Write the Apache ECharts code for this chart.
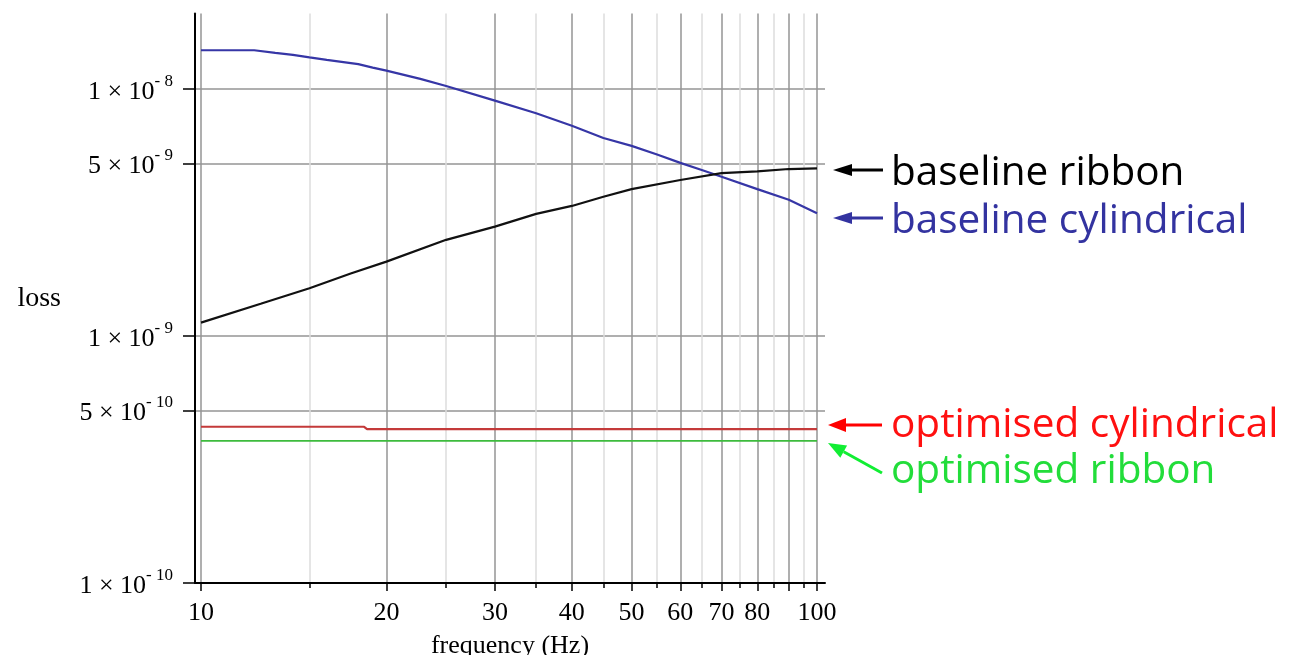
<!DOCTYPE html>
<html>
<head>
<meta charset="utf-8">
<script src="https://cdn.jsdelivr.net/npm/echarts@6/dist/echarts.min.js"></script>
<style>
html,body{margin:0;padding:0;background:#fff;}
#chart{width:1297px;height:655px;}
</style>
</head>
<body>
<div id="chart"></div>
<script>
// ---- data (frequency in Hz, loss) ----
const cylBaseFreq = [10, 12.2, 13.2, 14.1, 15, 16, 18, 19, 20, 22.7, 25, 30, 35, 40, 45, 50, 55, 60, 65, 70, 80, 90, 100];
const cylBaseLoss = [1.434e-8, 1.434e-8, 1.40e-8, 1.373e-8, 1.341e-8, 1.311e-8, 1.26e-8, 1.22e-8, 1.186e-8, 1.098e-8, 1.028e-8, 8.97e-9, 7.97e-9, 7.09e-9, 6.33e-9, 5.88e-9, 5.43e-9, 5.02e-9, 4.7e-9, 4.41e-9, 3.93e-9, 3.56e-9, 3.14e-9];

const ribBaseFreq = [10, 12.5, 15, 17.5, 20, 25, 30, 35, 40, 45, 50, 60, 70, 80, 90, 100];
const ribBaseLoss = [1.132e-9, 1.35e-9, 1.56e-9, 1.79e-9, 2.0e-9, 2.45e-9, 2.77e-9, 3.12e-9, 3.36e-9, 3.66e-9, 3.93e-9, 4.28e-9, 4.56e-9, 4.64e-9, 4.74e-9, 4.77e-9];

const cylOptFreq = [10, 18.4, 18.6, 100];
const cylOptLoss = [4.29e-10, 4.29e-10, 4.2e-10, 4.2e-10];

const ribOptFreq = [10, 100];
const ribOptLoss = [3.76e-10, 3.76e-10];

// ---- tick values ----
const xMajorTicks = [10, 20, 30, 40, 50, 60, 70, 80, 90, 100];
const xMinorTicks = [15, 25, 35, 45, 55, 65, 75, 85, 95];
const xLabelTicks = [10, 20, 30, 40, 50, 60, 70, 80, 100];
const yTicks = [1e-10, 5e-10, 1e-9, 5e-9, 1e-8];

const L = Math.log10;
function pts(f, v) { return f.map((x, i) => [L(x), L(v[i])]); }

const xMin = 1 - 6 / 616, xMax = 2 + 8 / 616;
const yMin = -10, yMax = L(2.02e-8);

const serif = '"Liberation Serif", "Times New Roman", serif';
const sans = '"Open Sans", "Noto Sans", sans-serif';

const chart = echarts.init(document.getElementById('chart'), null, {renderer: 'canvas'});

const option = {
  animation: false,
  backgroundColor: '#ffffff',
  grid: { left: 195, right: 472, top: 13.5, bottom: 72, containLabel: false, outerBoundsMode: 'none' },
  xAxis: [
    {
      type: 'value', min: xMin, max: xMax, position: 'bottom',
      axisLine: { show: false },
      axisLabel: { show: false },
      axisTick: { show: true, length: 5, lineStyle: { color: '#000', width: 1.5 }, customValues: xMinorTicks.map(L) },
      splitLine: { show: true, lineStyle: { color: '#dcdcdc', width: 1.5 } }
    },
    {
      type: 'value', min: xMin, max: xMax, position: 'bottom',
      name: 'frequency (Hz)', nameLocation: 'middle', nameGap: 50,
      nameTextStyle: { fontFamily: serif, fontSize: 26, color: '#000' },
      axisLine: { show: true, onZero: false, lineStyle: { color: '#000', width: 2 } },
      axisTick: { show: true, length: 8, lineStyle: { color: '#000', width: 1.5 }, customValues: xMajorTicks.map(L) },
      axisLabel: {
        show: true, margin: 17, fontFamily: serif, fontSize: 26, color: '#000',
        customValues: xLabelTicks.map(L),
        formatter: v => String(Math.round(Math.pow(10, v)))
      },
      splitLine: { show: true, lineStyle: { color: '#959595', width: 1.5 } }
    }
  ],
  yAxis: {
    type: 'value', min: yMin, max: yMax,
    name: 'loss', nameLocation: 'middle', nameRotate: 0, nameGap: 134,
    nameTextStyle: { fontFamily: serif, fontSize: 28, color: '#000', padding: [8, 0, 0, 0] },
    axisLine: { show: true, onZero: false, lineStyle: { color: '#000', width: 2 } },
    axisTick: { show: true, length: 12, lineStyle: { color: '#000', width: 1.5 }, customValues: yTicks.map(L) },
    axisLabel: {
      show: true, margin: 22, color: '#000',
      customValues: yTicks.map(L),
      formatter: v => {
        const e = Math.floor(v + 1e-9);
        const m = Math.round(Math.pow(10, v - e));
        return '{a|' + m + ' \u00d7 10}{b|- ' + (-e) + '}';
      },
      rich: {
        a: { fontFamily: serif, fontSize: 26, color: '#000', lineHeight: 32, verticalAlign: 'bottom' },
        b: { fontFamily: serif, fontSize: 17, color: '#000', lineHeight: 32, verticalAlign: 'top' }
      }
    },
    splitLine: { show: true, lineStyle: { color: '#959595', width: 1.5 } }
  },
  series: [
    { name: 'baseline cylindrical', type: 'line', xAxisIndex: 1, data: pts(cylBaseFreq, cylBaseLoss), showSymbol: false, symbol: 'none', lineStyle: { color: '#3636a6', width: 2.2 }, z: 5 },
    { name: 'baseline ribbon', type: 'line', xAxisIndex: 1, data: pts(ribBaseFreq, ribBaseLoss), showSymbol: false, symbol: 'none', lineStyle: { color: '#111111', width: 2.2 }, z: 5 },
    { name: 'optimised cylindrical', type: 'line', xAxisIndex: 1, data: pts(cylOptFreq, cylOptLoss), showSymbol: false, symbol: 'none', lineStyle: { color: '#c43a3a', width: 2.2 }, z: 5 },
    { name: 'optimised ribbon', type: 'line', xAxisIndex: 1, data: pts(ribOptFreq, ribOptLoss), showSymbol: false, symbol: 'none', lineStyle: { color: '#3dbb3d', width: 1.6 }, z: 5 }
  ],
  graphic: [
    // baseline ribbon
    { type: 'line', shape: { x1: 850, y1: 170, x2: 883, y2: 170 }, style: { stroke: '#000', lineWidth: 3 } },
    { type: 'polygon', shape: { points: [[833, 170], [852, 164], [852, 176]] }, style: { fill: '#000' } },
    { type: 'text', style: { text: 'baseline ribbon', x: 891, y: 173, fill: '#000', fontSize: 40.5, fontFamily: sans, verticalAlign: 'middle' } },
    // baseline cylindrical
    { type: 'line', shape: { x1: 850, y1: 218, x2: 883, y2: 218 }, style: { stroke: '#3333a0', lineWidth: 3 } },
    { type: 'polygon', shape: { points: [[833, 218], [852, 212], [852, 224]] }, style: { fill: '#3333a0' } },
    { type: 'text', style: { text: 'baseline cylindrical', x: 891, y: 221, fill: '#3333a0', fontSize: 40.5, fontFamily: sans, verticalAlign: 'middle' } },
    // optimised cylindrical
    { type: 'line', shape: { x1: 843, y1: 425, x2: 882, y2: 425 }, style: { stroke: '#ff0000', lineWidth: 3 } },
    { type: 'polygon', shape: { points: [[828, 425], [846, 418], [846, 432]] }, style: { fill: '#ff0000' } },
    { type: 'text', style: { text: 'optimised cylindrical', x: 891, y: 425, fill: '#ff1010', fontSize: 40.5, fontFamily: sans, verticalAlign: 'middle' } },
    // optimised ribbon
    { type: 'line', shape: { x1: 843.7, y1: 451.7, x2: 882, y2: 473 }, style: { stroke: '#11ee33', lineWidth: 3 } },
    { type: 'polygon', shape: { points: [[828, 443], [847.1, 445.6], [840.3, 457.8]] }, style: { fill: '#11ee33' } },
    { type: 'text', style: { text: 'optimised ribbon', x: 891, y: 471, fill: '#22dd3a', fontSize: 40.5, fontFamily: sans, verticalAlign: 'middle' } }
  ]
};
chart.setOption(option);
</script>
</body>
</html>
